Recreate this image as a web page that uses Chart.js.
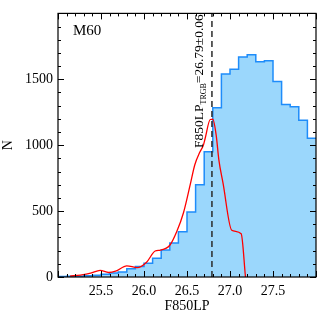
<!DOCTYPE html>
<html><head><meta charset="utf-8">
<script src="https://cdn.jsdelivr.net/npm/chart.js@4/dist/chart.umd.min.js"></script>
<style>html,body{margin:0;padding:0;background:#fff}#wrap{width:319px;height:319px}</style>
</head><body><div id="wrap"><canvas id="c" width="319" height="319"></canvas></div>
<script>
// ---- data ----
const binEdges = [25.0,25.1,25.2,25.3,25.4,25.5,25.6,25.7,25.8,25.9,26.0,26.1,26.2,26.3,26.4,26.5,26.6,26.7,26.8,26.9,27.0,27.1,27.2,27.3,27.4,27.5,27.6,27.7,27.8,27.9,28.0];
const binCounts = [3,5,5,10,14,20,30,38,62,80,104,143,204,258,343,494,700,951,1285,1540,1577,1669,1686,1633,1640,1484,1309,1292,1190,1053];
const modelMag = [25.14,25.26,25.38,25.49,25.59,25.67,25.80,25.92,26.03,26.13,26.19,26.30,26.38,26.46,26.54,26.59,26.65,26.69,26.71,26.77,26.80,26.84,26.87,26.92,27.02,27.13,27.18];
const modelN   = [7,15,29,51,34,44,85,71,112,197,204,241,343,489,708,850,949,1000,1049,1195,1197,1073,891,708,355,328,0];
const trgbMag = 26.79;
const trgbErr = 0.06;
const xTickLabels = ['25.5','26.0','26.5','27.0','27.5'];
const yTickLabels = ['0','500','1000','1500'];
const galaxyName = 'M60';

// ---- build ----
const histPts = binEdges.map((e,i)=>({x:e, y: binCounts[Math.min(i, binCounts.length-1)]}));
const modelPts = modelMag.map((m,i)=>({x:m, y:modelN[i]}));
const serif = '"Liberation Serif","DejaVu Serif",serif';

const framePlugin = {
  id:'frame',
  afterDatasetsDraw(chart){
    const {ctx, chartArea:a, scales:{x, y}} = chart;
    ctx.save();
    ctx.strokeStyle = '#000';
    ctx.lineWidth = 1;
    ctx.beginPath();
    for (let k = 250; k <= 280; k++) {
      const v = k/10;
      const px = Math.round(x.getPixelForValue(v)) + 0.5;
      const L = (k % 5 === 0) ? 6 : 3;
      ctx.moveTo(px, a.bottom); ctx.lineTo(px, a.bottom - L);
      ctx.moveTo(px, a.top); ctx.lineTo(px, a.top + L);
    }
    for (let v = 0; v <= 2000; v += 100) {
      const py = Math.round(y.getPixelForValue(v)) + 0.5;
      const L = (v % 500 === 0) ? 6 : 3;
      ctx.moveTo(a.left, py); ctx.lineTo(a.left + L, py);
      ctx.moveTo(a.right, py); ctx.lineTo(a.right - L, py);
    }
    ctx.stroke();
    ctx.lineWidth = 1.2;
    ctx.strokeRect(a.left, a.top, a.right - a.left, a.bottom - a.top);
    // label text
    ctx.fillStyle = '#000';
    ctx.font = '15px ' + serif;
    ctx.textBaseline = 'alphabetic';
    ctx.textAlign = 'left';
    ctx.fillText(galaxyName, a.left + 15, a.top + 22);
    // vertical TRGB text
    const bx = x.getPixelForValue(trgbMag) - 9;
    ctx.translate(bx, 148);
    ctx.rotate(-Math.PI/2);
    ctx.font = '13.5px ' + serif;
    let t1 = 'F850LP';
    ctx.fillText(t1, 0, 0);
    let w = ctx.measureText(t1).width;
    ctx.font = '8px ' + serif;
    ctx.fillText('TRGB', w, 3);
    w += ctx.measureText('TRGB').width;
    ctx.font = '13.5px ' + serif;
    ctx.fillText('=' + trgbMag.toFixed(2) + '\u00B1' + trgbErr.toFixed(2), w, 0);
    ctx.restore();
  }
};

new Chart(document.getElementById('c'), {
  type:'line',
  data:{datasets:[
    {data:histPts, stepped:true, fill:'origin', backgroundColor:'rgb(155,215,252)', borderColor:'rgb(30,140,250)', borderWidth:1.5, pointRadius:0, order:3},
    {data:modelPts, fill:false, borderColor:'rgb(255,0,0)', borderWidth:1.3, pointRadius:0, cubicInterpolationMode:'monotone', order:2},
    {data:[{x:trgbMag,y:0},{x:trgbMag,y:2000}], fill:false, borderColor:'#2a2a2a', borderWidth:1.5, borderDash:[6,4], pointRadius:0, order:1}
  ]},
  options:{
    responsive:false, animation:false, devicePixelRatio:1,
    layout:{padding:{top:3,right:3,left:0,bottom:0}},
    plugins:{legend:{display:false}, tooltip:{enabled:false}},
    scales:{
      x:{type:'linear', min:25, max:28,
        afterFit:s=>{s.height=42;},
        afterBuildTicks:s=>{s.ticks = xTickLabels.map(t=>({value:parseFloat(t)}));},
        ticks:{autoSkip:false, maxRotation:0, padding:6, color:'#000', font:{family:serif,size:14}, callback:v=>xTickLabels.find(t=>parseFloat(t)===v)||''},
        grid:{display:false, drawTicks:false}, border:{display:false},
        title:{display:true, text:'F850LP', color:'#000', font:{family:serif,size:14}, padding:{top:0,bottom:4}}
      },
      y:{min:0, max:2000,
        afterFit:s=>{s.width=58;},
        afterBuildTicks:s=>{s.ticks = yTickLabels.map(t=>({value:parseFloat(t)}));},
        ticks:{autoSkip:false, padding:5, color:'#000', font:{family:serif,size:14}, callback:v=>yTickLabels.find(t=>parseFloat(t)===v)||''},
        grid:{display:false, drawTicks:false}, border:{display:false},
        title:{display:true, text:'N', color:'#000', font:{family:serif,size:14}, padding:{top:0,bottom:0}}
      }
    }
  },
  plugins:[framePlugin]
});
</script></body></html>
